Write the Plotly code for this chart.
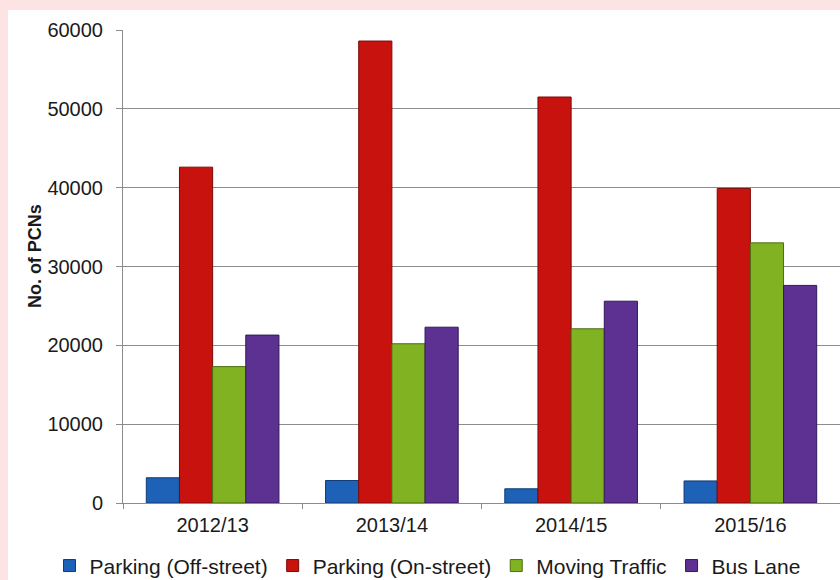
import plotly.graph_objects as go

categories = ["2012/13", "2013/14", "2014/15", "2015/16"]
off_street = [3200, 2850, 1800, 2800]
on_street = [42600, 58600, 51500, 39900]
moving_traffic = [17300, 20200, 22100, 33000]
bus_lane = [21300, 22300, 25600, 27600]
y_ticks = [0, 10000, 20000, 30000, 40000, 50000, 60000]

series = [
    ("Parking (Off-street)", off_street, "#1d62b7", "#0f3a75"),
    ("Parking (On-street)", on_street, "#c8120e", "#7a0a08"),
    ("Moving Traffic", moving_traffic, "#80b222", "#4d6d12"),
    ("Bus Lane", bus_lane, "#5c3192", "#33195a"),
]

fig = go.Figure()
for name, vals, col, edge in series:
    fig.add_trace(go.Bar(
        x=categories, y=vals, name=name,
        marker=dict(color=col, line=dict(color=edge, width=1)),
    ))

font_family = "Liberation Sans, Arial, sans-serif"
pink = "#fde3e3"

fig.update_layout(
    width=840, height=580,
    paper_bgcolor=pink,
    plot_bgcolor="rgba(0,0,0,0)",
    margin=dict(l=123, r=0, t=30, b=77, autoexpand=False),
    barmode="group", bargap=0.26, bargroupgap=0,
    font=dict(family=font_family, size=20, color="#1a1a1a"),
    showlegend=True,
    legend=dict(
        orientation="h", x=-0.1025, xanchor="left", y=-0.133, yanchor="middle",
        font=dict(size=21, color="#1a1a1a"), bgcolor="rgba(0,0,0,0)",
        itemwidth=30, tracegroupgap=0,
    ),
    shapes=[dict(
        type="rect", xref="paper", yref="paper",
        x0=-0.1604, x1=1.02, y0=-0.3, y1=1.0423,
        fillcolor="white", line=dict(width=0), layer="below",
    )],
    annotations=[dict(
        text="<b>No. of PCNs</b>", xref="paper", yref="paper",
        x=-0.1227, y=0.522, xanchor="center", yanchor="middle",
        textangle=-90, showarrow=False,
        font=dict(family=font_family, size=18, color="#1a1a1a"),
    )],
)

fig.update_xaxes(
    type="category", showline=True, linecolor="#8c8c8c", linewidth=1,
    ticks="outside", tickson="boundaries", ticklen=5, tickcolor="#8c8c8c",
    showgrid=False, tickfont=dict(size=20, color="#1a1a1a"),
    ticklabelstandoff=4,
)
fig.update_yaxes(
    range=[0, 60000], tickvals=y_ticks, ticktext=[str(v) for v in y_ticks],
    showline=True, linecolor="#8c8c8c", linewidth=1,
    ticks="outside", ticklen=6, tickcolor="#8c8c8c",
    showgrid=True, gridcolor="#8c8c8c", gridwidth=1,
    zeroline=False, tickfont=dict(size=20, color="#1a1a1a"),
    ticklabelstandoff=9,
)

fig.write_html(
    "out.html",
    config={"displayModeBar": False},
    post_script="document.body.style.margin='0px';document.body.style.background='%s';" % pink,
)
